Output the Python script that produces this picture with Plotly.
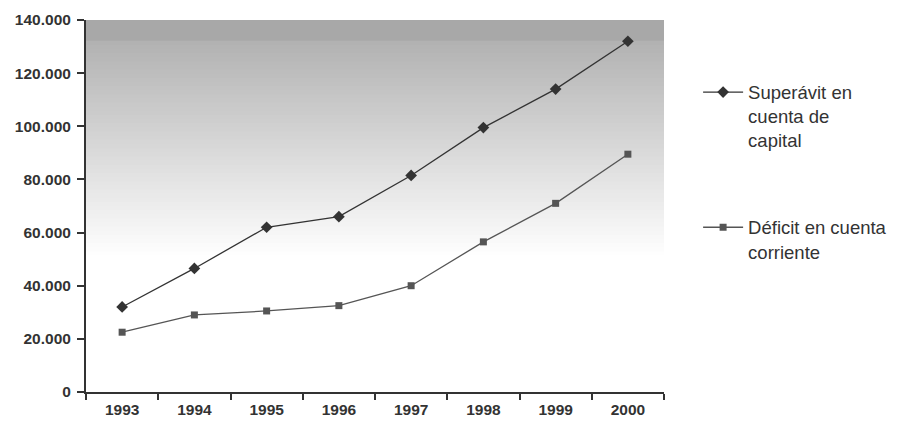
import plotly.graph_objects as go

years = ["1993", "1994", "1995", "1996", "1997", "1998", "1999", "2000"]
superavit = [32000, 46500, 62000, 66000, 81500, 99500, 114000, 132000]
deficit = [22500, 29000, 30500, 32500, 40000, 56500, 71000, 89500]
y_ticks = [0, 20000, 40000, 60000, 80000, 100000, 120000, 140000]

fig = go.Figure()

# vertical gradient background inside the plot area (stacked, no seams)
n = 90
shapes = []
for i in range(n):
    t = (i + 0.5) / n  # 0 at top
    if t < 0.058:
        g = 168
    else:
        g = 178 + (255 - 178) * min(1.0, (t - 0.058) / 0.58)
    g = int(round(min(255, g)))
    col = f"rgb({g},{g},{g})"
    shapes.append(dict(type="rect", xref="x domain", yref="y domain",
                       x0=0, x1=1, y0=0, y1=1 - i / n,
                       fillcolor=col, line=dict(width=0), layer="below"))

fig.add_trace(go.Scatter(
    x=years, y=superavit, mode="lines+markers",
    name="Superávit en<br>cuenta de<br>capital", legendgroup="a",
    line=dict(color="#333333", width=1.3),
    marker=dict(symbol="diamond", size=9, color="#333333"),
))
fig.add_trace(go.Scatter(
    x=years, y=deficit, mode="lines+markers",
    name="Déficit en cuenta<br>corriente", legendgroup="b",
    line=dict(color="#555555", width=1.3),
    marker=dict(symbol="square", size=7, color="#555555"),
))

fig.update_layout(
    width=896, height=414,
    margin=dict(l=78, r=237, t=12, b=30),
    paper_bgcolor="white", plot_bgcolor="white",
    separators=",.",
    shapes=shapes,
    font=dict(family="Liberation Sans, Arial, sans-serif", color="#333333"),
    legend=dict(x=1.059, y=0.856, xanchor="left", yanchor="top",
                font=dict(size=18.5, color="#333333"),
                tracegroupgap=60, bgcolor="rgba(0,0,0,0)",
                valign="top", itemwidth=40),
    showlegend=True,
)
fig.update_xaxes(
    type="category", range=[-0.5, 7.5], automargin=False,
    showline=True, linecolor="#333333", linewidth=2,
    ticks="outside", tickson="boundaries", ticklen=6, tickwidth=2, tickcolor="#333333",
    ticklabelstandoff=2,
    showgrid=False, zeroline=False,
    tickfont=dict(size=15.5, color="#333333", family="Liberation Sans, Arial, sans-serif", weight="bold"),
)
fig.update_yaxes(
    range=[0, 140000], tickvals=y_ticks, tickformat=",d", automargin=False,
    showline=True, linecolor="#333333", linewidth=2,
    ticks="outside", ticklen=7, tickwidth=2, tickcolor="#333333",
    ticklabelstandoff=3,
    showgrid=False, zeroline=False,
    tickfont=dict(size=15.5, color="#333333", family="Liberation Sans, Arial, sans-serif", weight="bold"),
)

fig.write_html("out.html")
